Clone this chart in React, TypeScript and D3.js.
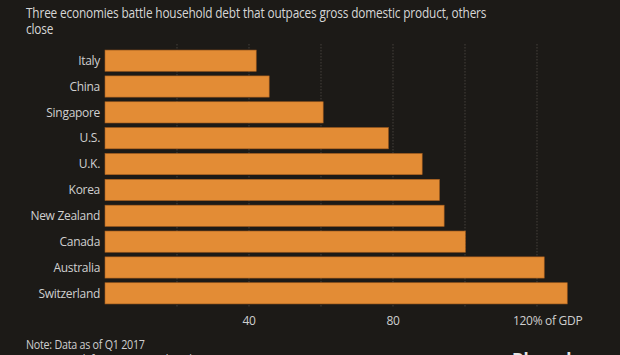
import React from "react";
import * as d3 from "d3";

const countries = ["Italy", "China", "Singapore", "U.S.", "U.K.", "Korea", "New Zealand", "Canada", "Australia", "Switzerland"];
const debtPctGdp = [42, 45.6, 60.6, 78.7, 88.1, 92.9, 94.2, 100.1, 122.0, 128.4];
const gridValues = [20, 40, 60, 80, 100, 120];
const tickLabels = [
  { value: 40, label: "40" },
  { value: 80, label: "80" },
  { value: 120, label: "120% of GDP" },
];

const W = 620;
const H = 355;
const FONT = "'Open Sans', 'DejaVu Sans', sans-serif";

export default function App() {
  const x = d3.scaleLinear().domain([0, 20]).range([105, 177]);
  const y = d3.scaleBand<string>().domain(countries).range([48, 306]).paddingInner(0.18).paddingOuter(0.08);

  return (
    <svg width={W} height={H} style={{ position: "absolute", left: 0, top: 0, display: "block" }}>
      <rect x={0} y={0} width={W} height={H} fill="#1c1a17" />
      <g transform="translate(26,0) scale(0.8,1)">
        <text x={0} y={18.5} fill="#d6d6d6" fontFamily={FONT} fontSize={14.8} letterSpacing={-0.2}>
          Three economies battle household debt that outpaces gross domestic product, others
        </text>
        <text x={0} y={34} fill="#d6d6d6" fontFamily={FONT} fontSize={14.8} letterSpacing={-0.2}>
          close
        </text>
      </g>
      {gridValues.map((v) => (
        <line key={v} x1={x(v)} x2={x(v)} y1={44} y2={308} stroke="#3e3a35" strokeWidth={1.2} strokeDasharray="1.5,1.5" />
      ))}
      {countries.map((c, i) => (
        <g key={c}>
          <rect
            x={x(0)}
            y={y(c)!}
            width={x(debtPctGdp[i]) - x(0)}
            height={y.bandwidth()}
            fill="#e38c35"
            stroke="#a85f1f"
            strokeWidth={0.6}
          />
          <text
            x={100}
            y={y(c)! + y.bandwidth() / 2}
            dy="0.35em"
            textAnchor="end"
            fill="#d0d0d0"
            fontFamily={FONT}
            fontSize={12}
            letterSpacing={-0.3}
          >
            {c}
          </text>
        </g>
      ))}
      {tickLabels.map((t) => (
        <text
          key={t.value}
          x={t.value === 120 ? x(t.value) - 24 : x(t.value)}
          y={325}
          textAnchor={t.value === 120 ? "start" : "middle"}
          fill="#cfcfcf"
          fontFamily={FONT}
          fontSize={12}
          letterSpacing={-0.3}
        >
          {t.label}
        </text>
      ))}
      <g transform="translate(26,0) scale(0.86,1)">
        <text x={0} y={349} fill="#cfcfcf" fontFamily={FONT} fontSize={12.5} letterSpacing={-0.3}>
          Note: Data as of Q1 2017
        </text>
        <text x={0} y={364} fill="#cfcfcf" fontFamily={FONT} fontSize={12.5} letterSpacing={-0.3}>
          Source: Bank for International Settlements
        </text>
      </g>
      <text x={512} y={366} fill="#e6e6e6" fontFamily={FONT} fontSize={17} fontWeight="bold">
        Bloomberg
      </text>
    </svg>
  );
}
